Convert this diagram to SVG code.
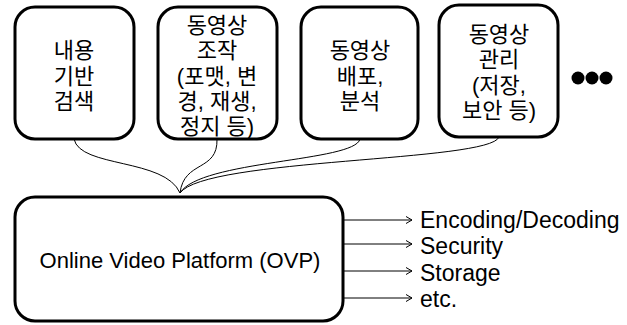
<svg xmlns="http://www.w3.org/2000/svg" width="627" height="325" viewBox="0 0 627 325">
<defs>
<style>
.box{fill:#fff;stroke:#000;stroke-width:3}
.t{font-family:"Liberation Sans","Noto Sans CJK KR",sans-serif;font-size:22px;fill:#000;text-anchor:middle}
.e{font-family:"Liberation Sans","Noto Sans CJK KR",sans-serif;font-size:23px;fill:#000}
.c{fill:none;stroke:#000;stroke-width:1}
</style>
<marker id="ah" markerWidth="10" markerHeight="10" refX="7" refY="4" orient="auto" markerUnits="userSpaceOnUse">
<path d="M1,0.5 L7,4 L1,7.5" fill="none" stroke="#000" stroke-width="1"/>
</marker>
</defs>
<rect width="627" height="325" fill="#fff"/>
<g id="connectors">
<path class="c" d="M74,139 C80,168 165,158 180,193"/>
<path class="c" d="M217,139 C218,172 184,160 180,193"/>
<path class="c" d="M360,139 C355,162 200,160 180,193"/>
<path class="c" d="M499,137 C490,162 205,158 180,193"/>
<path class="c" d="M343,220 H412" marker-end="url(#ah)"/>
<path class="c" d="M343,244 H412" marker-end="url(#ah)"/>
<path class="c" d="M343,271 H412" marker-end="url(#ah)"/>
<path class="c" d="M343,298 H412" marker-end="url(#ah)"/>
</g>
<g id="n1">
<rect class="box" x="15" y="7" width="119" height="132" rx="20"/>
<text class="t" x="74" y="58">내용</text>
<text class="t" x="74" y="84">기반</text>
<text class="t" x="74" y="109">검색</text>
</g>
<g id="n2">
<rect class="box" x="158" y="7" width="119" height="132" rx="20"/>
<text class="t" x="217" y="33">동영상</text>
<text class="t" x="217" y="58">조작</text>
<text class="t" x="217" y="84">(포맷, 변</text>
<text class="t" x="217" y="109">경, 재생,</text>
<text class="t" x="217" y="134">정지 등)</text>
</g>
<g id="n3">
<rect class="box" x="301" y="7" width="117" height="132" rx="20"/>
<text class="t" x="360" y="58">동영상</text>
<text class="t" x="360" y="84">배포,</text>
<text class="t" x="360" y="109">분석</text>
</g>
<g id="n4">
<rect class="box" x="439" y="5" width="119" height="132" rx="20"/>
<text class="t" x="499" y="42">동영상</text>
<text class="t" x="499" y="67">관리</text>
<text class="t" x="499" y="93">(저장,</text>
<text class="t" x="499" y="118">보안 등)</text>
</g>
<g id="more">
<circle cx="578" cy="78" r="6.5"/>
<circle cx="592" cy="78" r="6.5"/>
<circle cx="606" cy="78" r="6.5"/>
</g>
<g id="ovp">
<rect class="box" x="15" y="197" width="328" height="124" rx="20"/>
<text class="t" x="180" y="268">Online Video Platform (OVP)</text>
</g>
<g id="labels">
<text class="e" x="420" y="228">Encoding/Decoding</text>
<text class="e" x="420" y="254">Security</text>
<text class="e" x="420" y="281">Storage</text>
<text class="e" x="420" y="307">etc.</text>
</g>
</svg>
